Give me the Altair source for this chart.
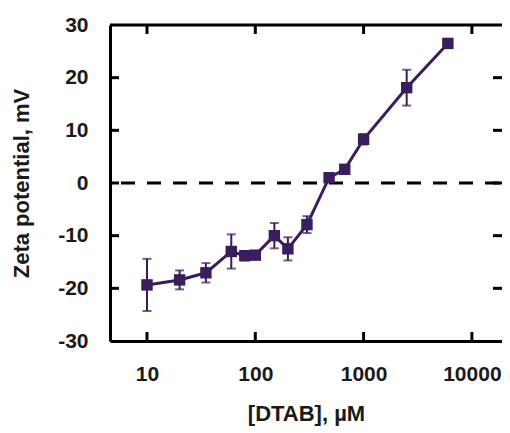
import altair as alt
import pandas as pd

# Data
conc = [10, 20, 35, 60, 80, 100, 150, 200, 300, 480, 670, 1000, 2500, 6000]
zeta = [-19.35, -18.4, -17.05, -13.0, -13.8, -13.7, -10.0, -12.5, -7.9, 1.0, 2.6, 8.3, 18.1, 26.5]
err = [4.95, 1.8, 1.85, 3.25, 0.9, 0.7, 2.4, 2.2, 1.6, 0.5, 0.5, 1.0, 3.4, 0.5]

x_ticks = [10, 100, 1000, 10000]
y_ticks = [-30, -20, -10, 0, 10, 20, 30]

df = pd.DataFrame({
    "conc": conc,
    "zeta": zeta,
    "lo": [z - e for z, e in zip(zeta, err)],
    "hi": [z + e for z, e in zip(zeta, err)],
})
xt = pd.DataFrame({"v": x_ticks})
yt = pd.DataFrame({"v": y_ticks[1:-1]})

W, H = 392, 316
COL = "#3a1d5d"
FONT = "Liberation Sans"

xs = alt.Scale(type="log", domain=[4.554, 18970], nice=False)
ys = alt.Scale(domain=[-30, 30], nice=False)

base = alt.Chart(df)

x_enc = alt.X("conc:Q", scale=xs, axis=alt.Axis(
    values=x_ticks, labelExpr="'' + datum.value", title="[DTAB], µM", ticks=False, grid=False,
    domainColor="black", domainWidth=3, labelPadding=22, titlePadding=19))
y_enc = alt.Y("zeta:Q", scale=ys, axis=alt.Axis(
    values=y_ticks, labelExpr="'' + datum.value", title="Zeta potential, mV", ticks=False, grid=False,
    domainColor="black", domainWidth=3, labelPadding=22, titlePadding=24))

zero = alt.Chart(pd.DataFrame({"y": [0]})).mark_rule(
    color="black", strokeWidth=3, strokeDash=[14, 12], strokeDashOffset=-3
).encode(y=alt.Y("y:Q", scale=ys))

top_line = alt.Chart(pd.DataFrame({"a": [0]})).mark_rule(color="black", strokeWidth=3).encode(
    x=alt.value(0), x2=alt.value(W), y=alt.value(0))

tick_bottom = alt.Chart(xt).mark_rule(color="black", strokeWidth=3).encode(
    x=alt.X("v:Q", scale=xs), y=alt.value(H), y2=alt.value(H - 9))
tick_top = alt.Chart(xt).mark_rule(color="black", strokeWidth=3).encode(
    x=alt.X("v:Q", scale=xs), y=alt.value(0), y2=alt.value(9))
tick_left = alt.Chart(yt).mark_rule(color="black", strokeWidth=3).encode(
    y=alt.Y("v:Q", scale=ys), x=alt.value(0), x2=alt.value(9))
tick_right = alt.Chart(yt).mark_rule(color="black", strokeWidth=3).encode(
    y=alt.Y("v:Q", scale=ys), x=alt.value(W), x2=alt.value(W - 9))

bars = base.mark_rule(color=COL, strokeWidth=2).encode(
    x=alt.X("conc:Q", scale=xs), y=alt.Y("lo:Q", scale=ys), y2="hi:Q")
cap_lo = base.mark_tick(color=COL, orient="horizontal", size=9, thickness=2).encode(
    x=alt.X("conc:Q", scale=xs), y=alt.Y("lo:Q", scale=ys))
cap_hi = base.mark_tick(color=COL, orient="horizontal", size=9, thickness=2).encode(
    x=alt.X("conc:Q", scale=xs), y=alt.Y("hi:Q", scale=ys))

line = base.mark_line(color=COL, strokeWidth=3).encode(x=x_enc, y=y_enc)
pts = base.mark_square(color=COL, size=130, opacity=1).encode(
    x=alt.X("conc:Q", scale=xs), y=alt.Y("zeta:Q", scale=ys))

chart = alt.layer(
    zero, line, bars, cap_lo, cap_hi, pts,
    top_line, tick_bottom, tick_top, tick_left, tick_right
).properties(
    width=W, height=H,
    autosize=alt.AutoSizeParams(type="none"),
    padding={"left": 102, "top": 17, "right": 0, "bottom": 90},
).configure_view(stroke=None).configure_axis(
    labelFont=FONT, titleFont=FONT, labelFontSize=21, titleFontSize=22,
    labelFontWeight="bold", titleFontWeight="bold",
    labelColor="#1a1a1a", titleColor="#1a1a1a",
)

chart.save("out.html", embed_options={"renderer": "svg", "actions": False})
